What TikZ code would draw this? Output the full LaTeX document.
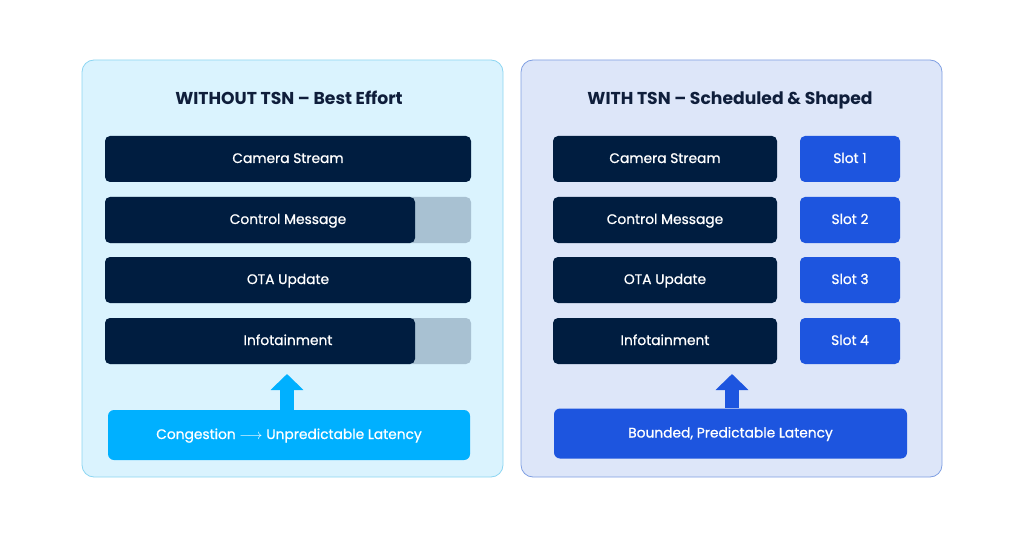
\documentclass[tikz,border=0pt]{standalone}
\usepackage{fontspec}
\setmainfont{Poppins}
\newfontfamily\medfont{Poppins}[FakeBold=0.8]
\usetikzlibrary{arrows.meta}
\definecolor{navy}{HTML}{001D40}
\definecolor{titlecol}{HTML}{0F1E3B}
\definecolor{waitgray}{HTML}{A8C1D2}
\definecolor{cyanbox}{HTML}{00B0FF}
\definecolor{bluebox}{HTML}{1D55DF}
\definecolor{leftfill}{HTML}{DAF3FE}
\definecolor{leftline}{HTML}{8DD6F2}
\definecolor{rightfill}{HTML}{DDE6F9}
\definecolor{rightline}{HTML}{7F9FE2}

\begin{document}
\begin{tikzpicture}[x=1pt,y=-1pt,
	panel/.style={rounded corners=12pt, line width=0.8pt},
	label/.style={text=white, text height=11pt, text depth=3pt, font=\medfont\fontsize{13.8}{16}\selectfont},
	bar/.style={label, fill=navy, rounded corners=5pt, minimum height=46pt, inner sep=0pt, outer sep=0pt},
	slotbox/.style={bar, fill=bluebox, minimum width=100pt},
	title/.style={text=titlecol, text height=12pt, text depth=4pt, font=\fontsize{17.2}{20}\selectfont\bfseries},
	latbox/.style={label, rounded corners=6pt, minimum height=50pt, inner sep=0pt, outer sep=0pt},
	bigarrow/.style={line width=14pt, -{Triangle[width=32pt,length=16pt]}, shorten >=10pt}]
	\fill[white] (0,0) rectangle (1024,537);
	\useasboundingbox (0,0) rectangle (1024,537);
	% without TSN
	\draw[panel, fill=leftfill, draw=leftline] (82,60) rectangle (503,477);
	\node[title] (ltitle) at (289,100.5) {WITHOUT TSN -- Best Effort};
	\node[bar, minimum width=366pt] (lcam) at (288,159) {Camera Stream};
	\node[bar, fill=waitgray, minimum width=366pt] (lctlq) at (288,220) {};
	\node[bar, minimum width=310pt] (lctl) at (260,220) {};
	\node[label] (lctltxt) at (lctlq) {Control Message};
	\node[bar, minimum width=366pt] (lota) at (288,280) {OTA Update};
	\node[bar, fill=waitgray, minimum width=366pt] (linfoq) at (288,341) {};
	\node[bar, minimum width=310pt] (linfo) at (260,341) {};
	\node[label] (linfotxt) at (linfoq) {Infotainment};
	\node[latbox, fill=cyanbox, minimum width=362pt] (cong) at (289,435) {Congestion \(\longrightarrow\) Unpredictable Latency};
	\draw[bigarrow, cyanbox] (287,410) -- (287,364);
	% with TSN
	\draw[panel, fill=rightfill, draw=rightline] (521,60) rectangle (942,477);
	\node[title] (rtitle) at (730,100.5) {WITH TSN -- Scheduled \& Shaped};
	\node[bar, minimum width=224pt] (rcam) at (665,159) {Camera Stream};
	\node[bar, minimum width=224pt] (rctl) at (665,220) {Control Message};
	\node[bar, minimum width=224pt] (rota) at (665,280) {OTA Update};
	\node[bar, minimum width=224pt] (rinfo) at (665,341) {Infotainment};
	\node[slotbox] (slot1) at (850,159) {Slot 1};
	\node[slotbox] (slot2) at (850,220) {Slot 2};
	\node[slotbox] (slot3) at (850,280) {Slot 3};
	\node[slotbox] (slot4) at (850,341) {Slot 4};
	\node[latbox, fill=bluebox, minimum width=353pt] (bound) at (730.5,433.5) {Bounded, Predictable Latency};
	\draw[bigarrow, bluebox] (732,408) -- (732,364);
\end{tikzpicture}
\end{document}
